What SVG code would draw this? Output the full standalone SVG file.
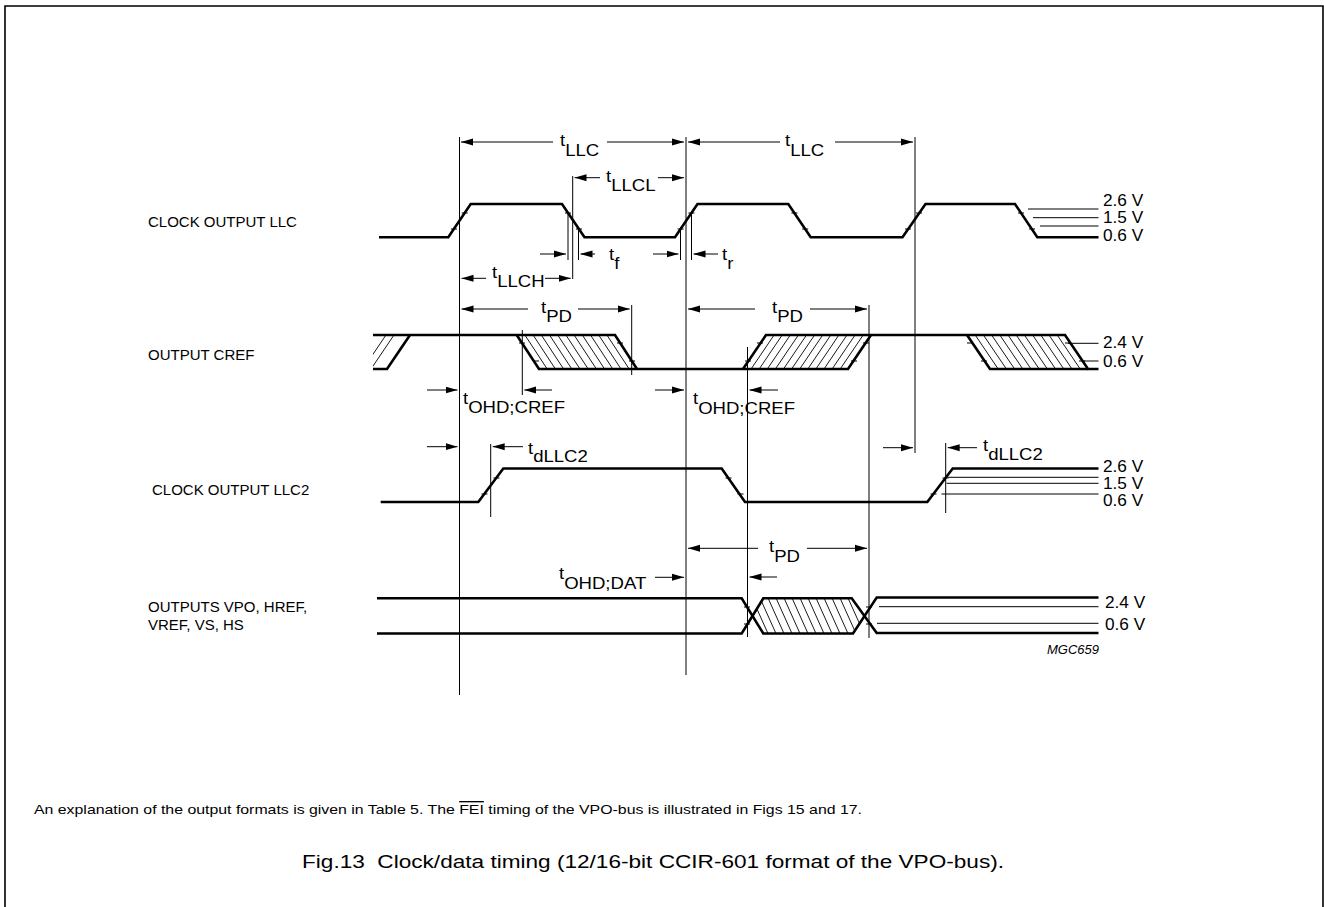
<svg xmlns="http://www.w3.org/2000/svg" width="1324" height="907" viewBox="0 0 1324 907">
<style>
.w{fill:none;stroke:#000;stroke-width:2.6;stroke-linejoin:miter;stroke-linecap:butt}
.h{fill:none;stroke:#000;stroke-width:0.9}
.thin{fill:none;stroke:#000;stroke-width:1}
.lvl{fill:none;stroke:#000;stroke-width:1}
.dim{fill:none;stroke:#000;stroke-width:1;marker-end:url(#ah)}
.t{font-family:"Liberation Sans",Arial,sans-serif;font-size:16px;fill:#000}
.v{font-family:"Liberation Sans",Arial,sans-serif;font-size:15px;fill:#000}
.lab{font-family:"Liberation Sans",Arial,sans-serif;font-size:15px;fill:#000}
.cap{font-family:"Liberation Sans",Arial,sans-serif;fill:#000}
</style>
<defs>
<marker id="ah" viewBox="0 0 12 8" refX="12" refY="4" markerWidth="12" markerHeight="8" orient="auto" markerUnits="userSpaceOnUse"><path d="M0,0.5 L12,4 L0,7.5 z" fill="#000"/></marker>
<clipPath id="stubclip"><rect x="373" y="330" width="40" height="45"/></clipPath>
<clipPath id="datclip"><polygon points="751.7,616 763.3,598 851.7,598 864,616 853,633.5 763.3,633.5"/></clipPath>
</defs>
<rect width="1324" height="907" fill="#fff"/>
<g id="border"><path d="M5,907 V6 H1323 V907" fill="none" stroke="#000" stroke-width="1.6"/></g>

<g id="signal-llc">
<path class="w" d="M379,237.3 H448.3 L470.7,204 H562 L584.5,237.3 H675 L697.5,204 H788.3 L810.7,237.3 H902.5 L925.5,204 H1015 L1037.3,237.3 H1098.5"/>
<path class="thin" d="M451,229H457 M461.7,213H467.7 M565,213H571 M576,229H582 M677.6,229H683.6 M688.4,213H694.4 M791.4,213H797.4 M802.2,229H808.2 M905,229H911 M916,213H922 M1018,213H1024 M1029,229H1035"/>
<path class="lvl" d="M1028,209H1098.5 M1033,217.7H1098.5 M1040,226H1098.5"/>
<text class="v" transform="translate(1103,206) scale(1.15,1.05)">2.6 V</text>
<text class="v" transform="translate(1103,223) scale(1.15,1.05)">1.5 V</text>
<text class="v" transform="translate(1103,240.5) scale(1.15,1.05)">0.6 V</text>
<text class="lab" x="148" y="227">CLOCK OUTPUT LLC</text>
</g>

<g id="signal-cref">
<path class="w" d="M373,335 H615 L637,369"/>
<path class="w" d="M516.7,335 L539,369 H848 L871,335"/>
<path class="w" d="M373,369 H387 L410,335"/>
<path class="w" d="M743,369 L766,335 H1065 L1088,369 H1098.5"/>
<path class="w" d="M967,335 L990,369 H1088"/>
<path class="h" d="M524.9,335L547.2,369 M533.1,335L555.4,369 M541.3,335L563.6,369 M549.5,335L571.8,369 M557.7,335L580,369 M565.9,335L588.2,369 M574.1,335L596.4,369 M582.3,335L604.6,369 M590.5,335L612.8,369 M598.7,335L621,369 M606.9,335L629.2,369"/>
<path class="h" d="M751.1,369L774.1,335 M759.2,369L782.2,335 M767.3,369L790.3,335 M775.4,369L798.4,335 M783.5,369L806.5,335 M791.6,369L814.6,335 M799.7,369L822.7,335 M807.8,369L830.8,335 M815.9,369L838.9,335 M824,369L847,335 M832.1,369L855.1,335 M840.2,369L863.2,335"/>
<path class="h" d="M975.2,335L998.2,369 M983.4,335L1006.4,369 M991.6,335L1014.6,369 M999.8,335L1022.8,369 M1008,335L1031,369 M1016.2,335L1039.2,369 M1024.4,335L1047.4,369 M1032.6,335L1055.6,369 M1040.8,335L1063.8,369 M1049,335L1072,369 M1057.2,335L1080.2,369"/>
<path class="h" clip-path="url(#stubclip)" d="M386,335L363,369 M394,335L371,369"/>
<path class="thin" d="M519,343H525 M533,361H539 M617,343H623 M629,361H635 M745,361H751 M757,343H763 M851,361H857 M863,343H869 M967,343H973 M981,361H987 M1065,343H1071 M1079,361H1085"/>
<path class="lvl" d="M1068,343.3H1098.5 M1082,361H1098.5"/>
<text class="v" transform="translate(1103,347.5) scale(1.15,1.05)">2.4 V</text>
<text class="v" transform="translate(1103,367) scale(1.15,1.05)">0.6 V</text>
<text class="lab" x="148" y="360">OUTPUT CREF</text>
</g>

<g id="signal-llc2">
<path class="w" d="M380.7,502 H478.3 L503.3,468.5 H721.7 L745,502 H927.3 L952.7,468.5 H1098.5"/>
<path class="thin" d="M481.5,494H487.5 M493.5,478H499.5 M725.5,478H731.5 M737.5,494H743.5 M930.5,494H936.5 M942.5,478H948.5"/>
<path class="lvl" d="M948,477.3H1098.5 M946.5,483.3H1098.5 M941.5,494H1098.5"/>
<text class="v" transform="translate(1103,472) scale(1.15,1.05)">2.6 V</text>
<text class="v" transform="translate(1103,489) scale(1.15,1.05)">1.5 V</text>
<text class="v" transform="translate(1103,506) scale(1.15,1.05)">0.6 V</text>
<text class="lab" x="152" y="495">CLOCK OUTPUT LLC2</text>
</g>

<g id="signal-dat">
<path class="w" d="M377,598.3 H741.7 L763.3,633.5 H853 L876.7,597.5 H1098.5"/>
<path class="w" d="M377,633.5 H741.7 L763.3,598.3 H851.7 L876.7,633 H1098.5"/>
<path class="h" clip-path="url(#datclip)" d="M752,598L768,633.5 M760,598L776,633.5 M768,598L784,633.5 M776,598L792,633.5 M784,598L800,633.5 M792,598L808,633.5 M800,598L816,633.5 M808,598L824,633.5 M816,598L832,633.5 M824,598L840,633.5 M832,598L848,633.5 M840,598L856,633.5 M848,598L864,633.5 M744,598L760,633.5"/>
<path class="thin" d="M744,607H750 M744,624H750 M866,607H872 M866,624H872"/>
<path class="lvl" d="M879,606.7H1098.5 M877,623.3H1098.5"/>
<text class="v" transform="translate(1105,607.7) scale(1.15,1.05)">2.4 V</text>
<text class="v" transform="translate(1105,630) scale(1.15,1.05)">0.6 V</text>
<text class="lab" x="148" y="612">OUTPUTS VPO, HREF,</text>
<text class="lab" x="148" y="630">VREF, VS, HS</text>
<text class="cap" x="1047" y="654" font-size="13" font-style="italic">MGC659</text>
</g>

<g id="connectors">
<path class="thin" d="M459.5,137V695 M686,137V675 M915,137V453 M572.7,176V279 M568,212V260 M578.5,229V260 M680.5,227V260 M691.5,211V260 M631.7,305V375 M869,305V638 M522.3,330V395 M747.5,347V637 M490.7,444V517 M945.7,443V513"/>
<line class="dim" x1="553" y1="142" x2="461" y2="142"/>
<line class="dim" x1="607" y1="142" x2="684" y2="142"/>
<line class="dim" x1="780" y1="142" x2="688" y2="142"/>
<line class="dim" x1="835" y1="142" x2="913" y2="142"/>
<line class="dim" x1="600" y1="177.7" x2="574.5" y2="177.7"/>
<line class="dim" x1="658" y1="177.7" x2="684" y2="177.7"/>
<line class="dim" x1="486" y1="278.3" x2="461.5" y2="278.3"/>
<line class="dim" x1="545" y1="278.3" x2="570.7" y2="278.3"/>
<line class="dim" x1="540" y1="254" x2="566" y2="254"/>
<line class="dim" x1="595" y1="254" x2="580.5" y2="254"/>
<line class="dim" x1="653" y1="254" x2="678.5" y2="254"/>
<line class="dim" x1="718" y1="254" x2="693.5" y2="254"/>
<line class="dim" x1="528" y1="309" x2="461.5" y2="309"/>
<line class="dim" x1="578" y1="309" x2="629.7" y2="309"/>
<line class="dim" x1="755" y1="309" x2="688" y2="309"/>
<line class="dim" x1="810" y1="309" x2="867" y2="309"/>
<line class="dim" x1="427" y1="390" x2="457.5" y2="390"/>
<line class="dim" x1="552" y1="390" x2="524.3" y2="390"/>
<line class="dim" x1="655" y1="390" x2="684" y2="390"/>
<line class="dim" x1="778" y1="390" x2="749.5" y2="390"/>
<line class="dim" x1="427" y1="446.7" x2="457.5" y2="446.7"/>
<line class="dim" x1="523" y1="446.7" x2="492.7" y2="446.7"/>
<line class="dim" x1="883" y1="447.7" x2="913" y2="447.7"/>
<line class="dim" x1="977" y1="447.7" x2="947.7" y2="447.7"/>
<line class="dim" x1="758" y1="548.3" x2="688" y2="548.3"/>
<line class="dim" x1="807" y1="548.3" x2="867" y2="548.3"/>
<line class="dim" x1="655" y1="577.3" x2="684" y2="577.3"/>
<line class="dim" x1="777" y1="577" x2="749.5" y2="577"/>
</g>

<g id="timing-labels">
<text class="t" transform="translate(560,146) scale(1.16,1)">t<tspan dy="9.5">LLC</tspan></text>
<text class="t" transform="translate(785,146) scale(1.16,1)">t<tspan dy="9.5">LLC</tspan></text>
<text class="t" transform="translate(606,181.7) scale(1.16,1)">t<tspan dy="9.5">LLCL</tspan></text>
<text class="t" transform="translate(492,278) scale(1.16,1)">t<tspan dy="9">LLCH</tspan></text>
<text class="t" transform="translate(609,259.5) scale(1.16,1)">t<tspan dy="9">f</tspan></text>
<text class="t" transform="translate(722,260) scale(1.16,1)">t<tspan dy="8.5">r</tspan></text>
<text class="t" transform="translate(541,313.3) scale(1.16,1)">t<tspan dy="8.5">PD</tspan></text>
<text class="t" transform="translate(772,313) scale(1.16,1)">t<tspan dy="8.5">PD</tspan></text>
<text class="t" transform="translate(463,403.5) scale(1.16,1)">t<tspan dy="9.5">OHD;CREF</tspan></text>
<text class="t" transform="translate(693,404) scale(1.16,1)">t<tspan dy="9.5">OHD;CREF</tspan></text>
<text class="t" transform="translate(528,454) scale(1.16,1)">t<tspan dy="7.5">dLLC2</tspan></text>
<text class="t" transform="translate(983,450.7) scale(1.16,1)">t<tspan dy="9.3">dLLC2</tspan></text>
<text class="t" transform="translate(769,551.7) scale(1.16,1)">t<tspan dy="10">PD</tspan></text>
<text class="t" transform="translate(559,579) scale(1.16,1)">t<tspan dy="10">OHD;DAT</tspan></text>
</g>

<g id="captions">
<text class="cap" x="34" y="814" font-size="13.5" textLength="828" lengthAdjust="spacingAndGlyphs">An explanation of the output formats is given in Table 5. The <tspan text-decoration="overline">FEI</tspan> timing of the VPO-bus is illustrated in Figs 15 and 17.</text>
<text class="cap" x="302" y="868" font-size="17.5" textLength="702" lengthAdjust="spacingAndGlyphs" xml:space="preserve">Fig.13  Clock/data timing (12/16-bit CCIR-601 format of the VPO-bus).</text>
</g>
</svg>
